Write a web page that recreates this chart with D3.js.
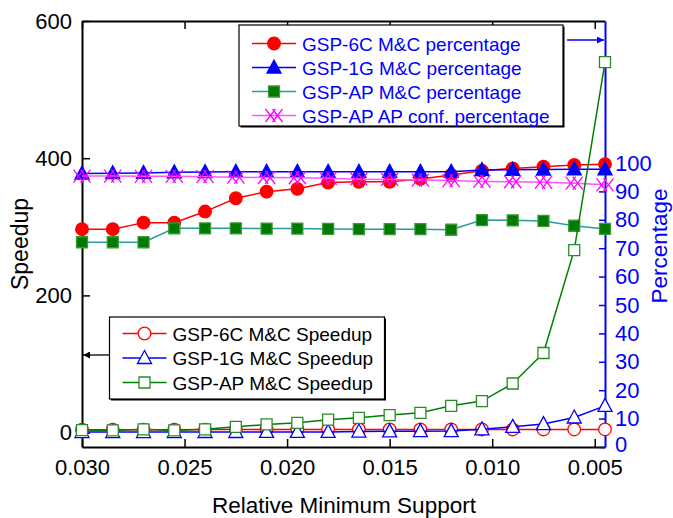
<!DOCTYPE html>
<html>
<head>
<meta charset="utf-8">
<script src="https://cdn.jsdelivr.net/npm/d3@7/dist/d3.min.js"></script>
<style>
body{margin:0;background:#fff}
svg{display:block}
text{font-family:Arial,"Liberation Sans",sans-serif}
</style>
</head>
<body>
<div id="chart"></div>
<script>
// relative minimum support (x), one point every 0.0015
var support = [0.0300, 0.0285, 0.0270, 0.0255, 0.0240, 0.0225, 0.0210, 0.0195, 0.0180,
               0.0165, 0.0150, 0.0135, 0.0120, 0.0105, 0.0090, 0.0075, 0.0060, 0.0045];
var xTicks = [0.030, 0.025, 0.020, 0.015, 0.010, 0.005];
var speedTicks = [0, 200, 400, 600];
var pctTicks = [0, 10, 20, 30, 40, 50, 60, 70, 80, 90, 100];

// percentage series (right axis)
var pct6C     = [76.7, 76.7, 79.0, 79.0, 82.9, 87.6, 89.9, 90.9, 93.1, 93.4, 93.4, 94.4, 95.8, 97.3, 98.1, 98.7, 99.3, 99.6];
var pct1G     = [96.3, 96.4, 96.5, 96.7, 96.8, 96.9, 96.9, 96.9, 96.9, 96.9, 96.9, 96.9, 96.9, 97.5, 97.6, 97.7, 97.8, 97.8];
var pctAP     = [72.1, 72.1, 72.1, 77.0, 77.0, 77.0, 76.9, 76.9, 76.8, 76.7, 76.7, 76.7, 76.5, 79.9, 79.8, 79.6, 77.9, 76.8];
var pctAPconf = [95.4, 95.4, 95.3, 95.3, 95.2, 95.0, 94.9, 94.8, 94.6, 94.3, 94.2, 94.0, 93.8, 93.5, 93.4, 93.2, 92.9, 92.3];

// speedup series (left axis)
var speed6C = [4.2, 4.2, 4.3, 4.3, 4.4, 4.4, 4.5, 4.5, 4.5, 4.5, 4.5, 4.5, 4.5, 4.6, 4.6, 4.6, 4.6, 4.6];
var speed1G = [0.8, 0.8, 0.8, 0.8, 0.9, 0.9, 1.0, 1.0, 1.0, 1.5, 1.8, 2.0, 2.2, 4.8, 8.4, 12.4, 22, 39];
var speedAP = [3.6, 3.2, 4.7, 3.2, 4.7, 8.4, 11.9, 14.3, 18.9, 21.6, 25.5, 28.8, 39, 45.9, 71.6, 116, 266, 540];

var W = 673, H = 518;
var m = {l: 82, r: 68, t: 21, b: 71};

var x = d3.scaleLinear().domain([0.030, 0.0045]).range([m.l, W - m.r]);
var yL = d3.scaleLinear().domain([-21, 600]).range([H - m.b, m.t]);
var yR = d3.scaleLinear().domain([0, 150]).range([H - m.b, m.t]);

var shapes = {
    circle: 'M6.3,0A6.3,6.3 0 1,1 -6.3,0A6.3,6.3 0 1,1 6.3,0Z',
    triangle: 'M0,-7.5L7,5.5L-7,5.5Z',
    square: 'M-5.5,-5.5h11v11h-11Z',
    xx: 'M-8.5,-6.5L1.5,6.5M-8.5,6.5L1.5,-6.5M-1.5,-6.5L8.5,6.5M-1.5,6.5L8.5,-6.5'
};

var pctSeries = [
    {name: 'GSP-6C M&C percentage', vals: pct6C, shape: 'circle', line: '#ff0000', fill: '#ff0000', stroke: '#ff0000'},
    {name: 'GSP-1G M&C percentage', vals: pct1G, shape: 'triangle', line: '#0000ff', fill: '#0000ff', stroke: '#0000ff'},
    {name: 'GSP-AP M&C percentage', vals: pctAP, shape: 'square', line: '#2a9a9a', fill: '#007a00', stroke: '#3a9a3a'},
    {name: 'GSP-AP AP conf. percentage', vals: pctAPconf, shape: 'xx', line: '#ff55ff', fill: 'none', stroke: '#ff00ff'}
];
var speedSeries = [
    {name: 'GSP-6C M&C Speedup', vals: speed6C, shape: 'circle', line: '#ff0000', fill: '#fff', stroke: '#ff0000'},
    {name: 'GSP-1G M&C Speedup', vals: speed1G, shape: 'triangle', line: '#0000ff', fill: '#fff', stroke: '#0000ff'},
    {name: 'GSP-AP M&C Speedup', vals: speedAP, shape: 'square', line: '#008000', fill: '#fff', stroke: '#2a8a2a'}
];

var svg = d3.select('#chart').append('svg').attr('width', W).attr('height', H);

function range(a, b, step){
    var out = [];
    for(var v = a; v <= b + 1e-9; v += step){ out.push(+v.toFixed(6)); }
    return out;
}

// ---- axes ----
var xMinor = range(0.0025, 0.0300, 0.0025).filter(function(v){ return xTicks.indexOf(v) < 0 && v >= 0.0045; });

var gx = svg.append('g').attr('transform', 'translate(0,' + (H - m.b) + ')');
gx.call(d3.axisBottom(x).tickValues(xMinor).tickSize(-5).tickSizeOuter(0).tickFormat(''));
gx.call(d3.axisBottom(x).tickValues(xTicks).tickSize(-8).tickSizeOuter(0).tickPadding(12).tickFormat(d3.format('.3f')));

var gxt = svg.append('g').attr('transform', 'translate(0,' + m.t + ')');
gxt.call(d3.axisTop(x).tickValues(xMinor).tickSize(-5).tickSizeOuter(0).tickFormat(''));
gxt.call(d3.axisTop(x).tickValues(xTicks).tickSize(-8).tickSizeOuter(0).tickFormat(''));

var yMinor = range(-20, 600, 20).filter(function(v){ return v % 100 !== 0; });
var yMid = [100, 300, 500];
var gyl = svg.append('g').attr('transform', 'translate(' + m.l + ',0)');
gyl.call(d3.axisLeft(yL).tickValues(yMinor).tickSize(-3).tickSizeOuter(0).tickFormat(''));
gyl.call(d3.axisLeft(yL).tickValues(yMid).tickSize(-5).tickSizeOuter(0).tickFormat(''));
gyl.call(d3.axisLeft(yL).tickValues(speedTicks).tickSize(-8).tickSizeOuter(0).tickPadding(10));

var rMinor = range(5, 145, 10);
var rMajorHigh = range(110, 150, 10);
var gyr = svg.append('g').attr('class', 'raxis').attr('transform', 'translate(' + (W - m.r) + ',0)');
gyr.call(d3.axisRight(yR).tickValues(rMinor).tickSize(-4).tickSizeOuter(0).tickFormat(''));
gyr.call(d3.axisRight(yR).tickValues(rMajorHigh).tickSize(-6).tickSizeOuter(0).tickFormat(''));
gyr.call(d3.axisRight(yR).tickValues(pctTicks).tickSize(-6).tickSizeOuter(0).tickPadding(10));

svg.selectAll('.domain').attr('stroke', '#000').attr('stroke-width', 2);
svg.selectAll('.tick line').attr('stroke', '#000').attr('stroke-width', 1.5);
svg.selectAll('.tick text').attr('font-size', 22).attr('fill', '#000')
    .attr('font-family', 'Arial, "Liberation Sans", sans-serif');
gyr.selectAll('.domain').attr('stroke', '#0000ff');
gyr.selectAll('.tick line').attr('stroke', '#0000ff');
gyr.selectAll('.tick text').attr('fill', '#0000ff');
// right-hand "0" sits just above the x labels
gyr.selectAll('.tick text').filter(function(d){ return d === 0; }).attr('dy', '0.2em');

// axis titles
svg.append('text').attr('x', (m.l + W - m.r) / 2 + 0.5).attr('y', 513)
    .attr('text-anchor', 'middle').attr('font-size', 22.5).text('Relative Minimum Support');
svg.append('text').attr('transform', 'translate(28,244) rotate(-90)')
    .attr('text-anchor', 'middle').attr('font-size', 23).text('Speedup');
svg.append('text').attr('transform', 'translate(667,246) rotate(-90)')
    .attr('text-anchor', 'middle').attr('font-size', 22.5).attr('fill', '#0000ff').text('Percentage');

// ---- series ----
function drawSeries(list, y){
    list.forEach(function(s){
        var pts = s.vals.map(function(v, i){ return [support[i], v]; });
        var line = d3.line().x(function(d){ return x(d[0]); }).y(function(d){ return y(d[1]); });
        svg.append('path').attr('d', line(pts)).attr('fill', 'none')
            .attr('stroke', s.line).attr('stroke-width', 1.5);
        svg.append('g').selectAll('path').data(pts).join('path')
            .attr('transform', function(d){ return 'translate(' + x(d[0]) + ',' + y(d[1]) + ')'; })
            .attr('d', shapes[s.shape])
            .attr('fill', s.fill).attr('stroke', s.stroke).attr('stroke-width', 1.3);
    });
}
drawSeries(pctSeries, yR);
drawSeries(speedSeries, yL);

// ---- legends ----
function legend(list, box, textColor){
    var g = svg.append('g');
    g.append('rect').attr('x', box.x + 1.5).attr('y', box.y + 1.5).attr('width', box.w).attr('height', box.h)
        .attr('fill', '#000');
    g.append('rect').attr('x', box.x).attr('y', box.y).attr('width', box.w).attr('height', box.h)
        .attr('fill', '#fff').attr('stroke', '#000').attr('stroke-width', 1.2);
    list.forEach(function(s, i){
        var cy = box.y + box.first + i * box.step;
        var lx = box.x + 13;
        g.append('line').attr('x1', lx).attr('x2', lx + 44).attr('y1', cy).attr('y2', cy)
            .attr('stroke', s.line).attr('stroke-width', 1.5);
        g.append('path').attr('transform', 'translate(' + (lx + 22) + ',' + cy + ')')
            .attr('d', shapes[s.shape]).attr('fill', s.fill).attr('stroke', s.stroke).attr('stroke-width', 1.3);
        g.append('text').attr('x', lx + 50).attr('y', cy + 7).attr('font-size', 19)
            .attr('fill', textColor).text(s.name);
    });
}
legend(pctSeries, {x: 239, y: 25, w: 324, h: 101, first: 18.5, step: 24}, '#0000ff');
legend(speedSeries, {x: 109.5, y: 317, w: 275, h: 82, first: 16.5, step: 24.5}, '#000');

// arrows pointing to each legend's axis
var defs = svg.append('defs');
[['arrB', '#0000ff'], ['arrK', '#000']].forEach(function(a){
    defs.append('marker').attr('id', a[0]).attr('viewBox', '0 0 10 10').attr('refX', 10).attr('refY', 5)
        .attr('markerWidth', 9).attr('markerHeight', 7).attr('markerUnits', 'userSpaceOnUse').attr('orient', 'auto')
        .append('path').attr('d', 'M0,0L10,5L0,10Z').attr('fill', a[1]);
});
svg.append('line').attr('x1', 567).attr('x2', W - m.r - 1).attr('y1', 40).attr('y2', 40)
    .attr('stroke', '#0000ff').attr('stroke-width', 1.3).attr('marker-end', 'url(#arrB)');
svg.append('line').attr('x1', 109.5).attr('x2', m.l + 1).attr('y1', 355).attr('y2', 355)
    .attr('stroke', '#000').attr('stroke-width', 1.3).attr('marker-end', 'url(#arrK)');
</script>
</body>
</html>
